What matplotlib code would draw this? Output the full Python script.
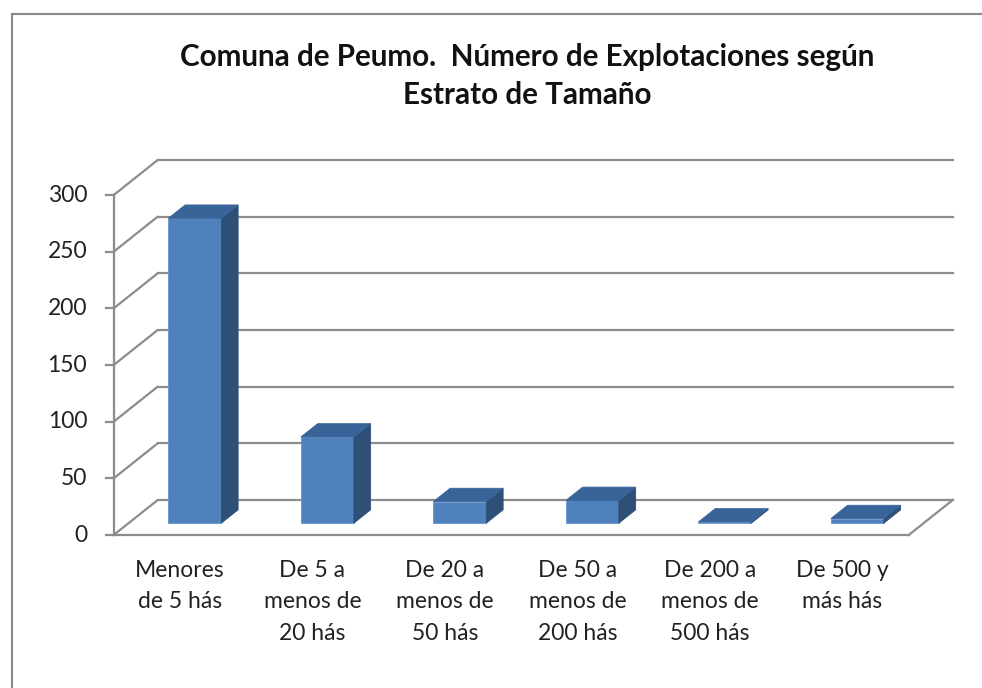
import matplotlib.pyplot as plt
from matplotlib.patches import Polygon

# data
categories = ['Menores\nde 5 hás', 'De 5 a\nmenos de\n20 hás', 'De 20 a\nmenos de\n50 hás',
              'De 50 a\nmenos de\n200 hás', 'De 200 a\nmenos de\n500 hás', 'De 500 y\nmás hás']
values = [269, 76, 19, 20, 1, 4]
yticks = [0, 50, 100, 150, 200, 250, 300]
title = 'Comuna de Peumo.  Número de Explotaciones según\nEstrato de Tamaño'

plt.rcParams['font.family'] = ['Lato', 'DejaVu Sans']

fig = plt.figure(figsize=(9.82, 6.88), dpi=100)
ax = fig.add_axes([0, 0, 1, 1])
ax.set_xlim(-1.358, 6.053)
ax.set_ylim(-135, 472.1)
ax.set_autoscale_on(False)
ax.axis('off')

# oblique depth offset (category units, value units)
DX, DY = 0.332, 30.9
grid_c = '#8c8c8c'
n = len(categories)
x0, x1 = -0.5, n - 0.5

# back wall gridlines + left wall diagonals + tick marks
for v in yticks:
    ax.plot([x0 + DX, x1 + DX], [v + DY, v + DY], color=grid_c, lw=1.6, zorder=1)
    ax.plot([x0, x0 + DX], [v, v + DY], color=grid_c, lw=1.6, zorder=1,
            solid_capstyle='round')
    ax.plot([x0 - 0.06, x0], [v, v], color=grid_c, lw=1.6, zorder=1)
    ax.text(x0 - 0.2, v, str(v), ha='right', va='center', fontsize=16.5, color='#222222')

# front axis and floor
ax.plot([x0, x0], [0, yticks[-1]], color=grid_c, lw=1.6, zorder=1)
ax.plot([x0, x1], [0, 0], color=grid_c, lw=1.6, zorder=1)
ax.plot([x1, x1 + DX], [0, DY], color=grid_c, lw=1.6, zorder=1)

# bars (3D look)
f0, f1 = 0.34, 0.72
w = 0.2
front_c, top_c, side_c = '#4F81BD', '#38649A', '#2E5077'
for i, v in enumerate(values):
    ox, oy = f0 * DX, f0 * DY
    dx, dy = (f1 - f0) * DX, (f1 - f0) * DY
    l, r = i - w + ox, i + w + ox
    b, t = oy, oy + v
    ax.add_patch(Polygon([(l, b), (r, b), (r, t), (l, t)], closed=True,
                         fc=front_c, ec='#6b95c8', lw=0.6, zorder=3))
    ax.add_patch(Polygon([(r, b), (r + dx, b + dy), (r + dx, t + dy), (r, t)], closed=True,
                         fc=side_c, ec=side_c, lw=0.6, zorder=3))
    ax.add_patch(Polygon([(l, t), (r, t), (r + dx, t + dy), (l + dx, t + dy)], closed=True,
                         fc=top_c, ec=top_c, lw=0.6, zorder=3))
    ax.text(i, -22, categories[i], ha='center', va='top', fontsize=16.5,
            color='#222222', linespacing=1.62)

ax.text(2.62, 405, title, ha='center', va='center', fontsize=21.3, fontweight='bold',
        color='#111111', linespacing=1.4)

# outer frame
fig.add_artist(plt.Line2D([12 / 982, 12 / 982], [0, 1 - 14 / 688], color='#888888', lw=1.5))
fig.add_artist(plt.Line2D([12 / 982, 1], [1 - 14 / 688, 1 - 14 / 688], color='#888888', lw=1.5))

fig.savefig('out.png', dpi=100)
